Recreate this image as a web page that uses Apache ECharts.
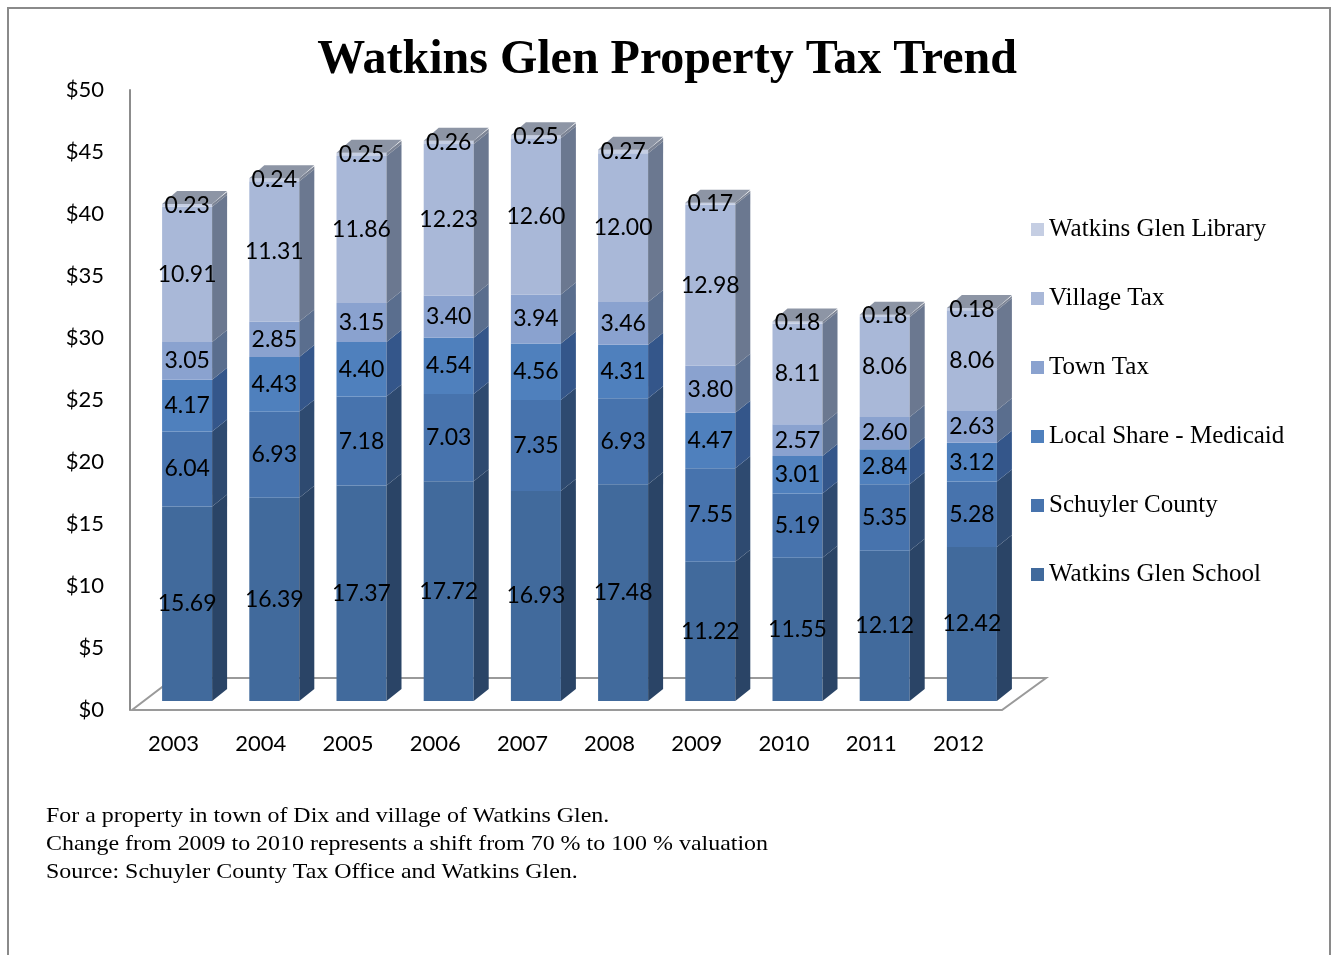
<!DOCTYPE html>
<html>
<head>
<meta charset="utf-8">
<script src="https://cdn.jsdelivr.net/npm/echarts@6/dist/echarts.min.js"></script>
<style>
  html, body { margin: 0; padding: 0; background: #fff; }
  #chart { width: 1334px; height: 955px; }
</style>
</head>
<body>
<div id="chart"></div>
<script>
var years = ['2003', '2004', '2005', '2006', '2007', '2008', '2009', '2010', '2011', '2012'];
var school = [15.69, 16.39, 17.37, 17.72, 16.93, 17.48, 11.22, 11.55, 12.12, 12.42];
var schuyler = [6.04, 6.93, 7.18, 7.03, 7.35, 6.93, 7.55, 5.19, 5.35, 5.28];
var medicaid = [4.17, 4.43, 4.40, 4.54, 4.56, 4.31, 4.47, 3.01, 2.84, 3.12];
var townTax = [3.05, 2.85, 3.15, 3.40, 3.94, 3.46, 3.80, 2.57, 2.60, 2.63];
var villageTax = [10.91, 11.31, 11.86, 12.23, 12.60, 12.00, 12.98, 8.11, 8.06, 8.06];
var library = [0.23, 0.24, 0.25, 0.26, 0.25, 0.27, 0.17, 0.18, 0.18, 0.18];
var yTicks = [0, 5, 10, 15, 20, 25, 30, 35, 40, 45, 50];

var layers = [
  { name: 'Watkins Glen School', data: school, front: '#416a9c', side: '#2a4466' },
  { name: 'Schuyler County', data: schuyler, front: '#4773ad', side: '#2e4a70' },
  { name: 'Local Share - Medicaid', data: medicaid, front: '#4f80bd', side: '#34568a' },
  { name: 'Town Tax', data: townTax, front: '#8aa2cf', side: '#5a6e8e' },
  { name: 'Village Tax', data: villageTax, front: '#a9b8d8', side: '#6b7890' },
  { name: 'Watkins Glen Library', data: library, front: '#c5cee3', side: '#7b8394' }
];

// fake 3d: front face, right side, top
var BAR_W = 50, DX = 15, DY = -12, TOP_DY = -13, SHIFT_X = 13.5, SHIFT_Y = -9;

var chart = echarts.init(document.getElementById('chart'));

function barRender(layerIdx) {
  var layer = layers[layerIdx];
  var isTop = layerIdx === layers.length - 1;
  return function (params, api) {
    var i = api.value(0), base = api.value(1), val = api.value(2);
    var lo = api.coord([i, base]);
    var hi = api.coord([i, base + val]);
    var yLo = lo[1] + SHIFT_Y;
    var yHi = hi[1] + SHIFT_Y;
    var cx = lo[0] + SHIFT_X;
    var x0 = cx - BAR_W / 2, x1 = cx + BAR_W / 2;
    var children = [
      { type: 'rect', shape: { x: x0, y: yHi, width: BAR_W, height: yLo - yHi },
        style: { fill: layer.front } },
      { type: 'polygon', shape: { points: [[x1, yLo], [x1 + DX, yLo + DY], [x1 + DX, yHi + DY], [x1, yHi]] },
        style: { fill: layer.side } }
    ];
    if (isTop) {
      children.push({ type: 'polygon',
        shape: { points: [[x0, yHi], [x1, yHi], [x1 + DX, yHi + TOP_DY], [x0 + DX, yHi + TOP_DY]] },
        style: { fill: '#8d95a5' } });
    }
    children.push({ type: 'text', z2: 10,
      style: { text: val.toFixed(2), x: cx, y: (yLo + yHi) / 2, align: 'center', verticalAlign: 'middle',
        font: '23px Lato', fill: '#000' } });
    return { type: 'group', children: children };
  };
}

var series = [{
  type: 'custom',
  name: 'floor',
  z: 1,
  silent: true,
  data: [[0, 0]],
  renderItem: function (params, api) {
    var cs = params.coordSys;
    var yb = cs.y + cs.height, xl = cs.x, xr = cs.x + cs.width;
    return { type: 'polygon',
      shape: { points: [[xl + 2, yb], [xr, yb], [xr + 44, yb - 32], [xl + 44, yb - 32]] },
      style: { fill: '#fff', stroke: '#9a9a9a', lineWidth: 2 } };
  }
}];

var cum = years.map(function () { return 0; });
layers.forEach(function (layer, li) {
  var d = layer.data.map(function (v, i) {
    var row = [i, cum[i], v];
    cum[i] += v;
    return row;
  });
  series.push({
    type: 'custom',
    name: layer.name,
    z: 2,
    itemStyle: { color: layer.front },
    encode: { x: 0, y: [1, 2] },
    data: d,
    renderItem: barRender(li)
  });
});

var option = {
  animation: false,
  backgroundColor: '#fff',
  title: {
    text: 'Watkins Glen Property Tax Trend',
    left: 'center',
    top: 32,
    textStyle: { fontFamily: 'Liberation Serif', fontWeight: 'bold', fontSize: 48, color: '#000' }
  },
  legend: {
    orient: 'vertical',
    left: 1026,
    top: 212,
    itemWidth: 13,
    itemHeight: 13,
    itemGap: 44,
    icon: 'rect',
    data: layers.map(function (l) { return l.name; }).reverse(),
    textStyle: { fontFamily: 'Liberation Serif', fontSize: 25, color: '#000' }
  },
  grid: { left: 130, right: 332, top: 90, bottom: 245, containLabel: false },
  xAxis: {
    type: 'category',
    data: years,
    axisLine: { show: false },
    axisTick: { show: false },
    axisLabel: { margin: 23, fontFamily: 'Lato', fontSize: 22, color: '#000' }
  },
  yAxis: {
    type: 'value',
    min: yTicks[0],
    max: yTicks[yTicks.length - 1],
    interval: 5,
    splitLine: { show: false },
    axisTick: { show: false },
    axisLine: { show: true, lineStyle: { color: '#8c8c8c', width: 2 } },
    axisLabel: { margin: 26, fontFamily: 'Lato', fontSize: 22, color: '#000',
      formatter: function (v) { return '$' + v; } }
  },
  graphic: [
    { type: 'rect', shape: { x: 8, y: 8, width: 1322, height: 980 }, silent: true,
      style: { fill: 'none', stroke: '#8a8a8a', lineWidth: 2 } },
    { type: 'text', x: 46, y: 802, scaleX: 1.14,
      style: { text: 'For a property in town of Dix and village of Watkins Glen.\nChange from 2009 to 2010 represents a shift from 70 % to 100 % valuation\nSource: Schuyler County Tax Office and Watkins Glen.',
        font: '21px "Liberation Serif"', lineHeight: 28, fill: '#000' } }
  ],
  series: series
};

chart.setOption(option);
</script>
</body>
</html>
